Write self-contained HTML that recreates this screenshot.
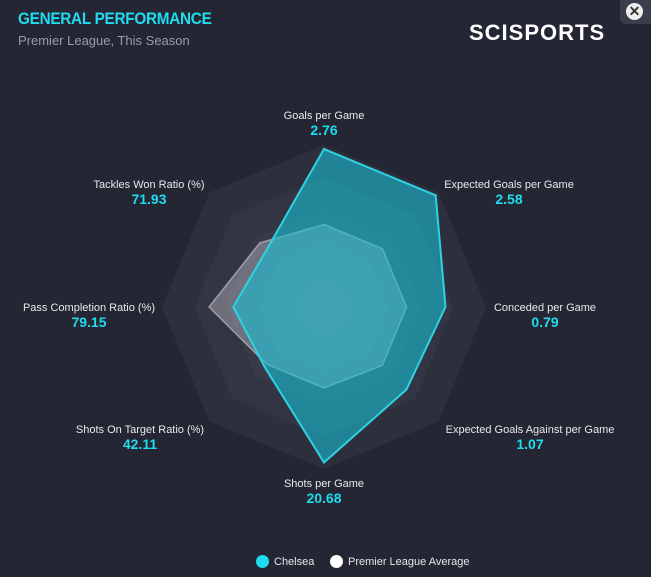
<!DOCTYPE html>
<html><head><meta charset="utf-8">
<style>
html,body{margin:0;padding:0;background:#242633;}
body{width:651px;height:577px;position:relative;overflow:hidden;font-family:"Liberation Sans",sans-serif;}
.title{position:absolute;left:18px;top:9px;color:#1fdcef;font-weight:bold;font-size:17px;letter-spacing:-0.3px;transform:scaleX(0.9);transform-origin:0 0;}
.sub{position:absolute;left:18px;top:33px;color:#9a9ca6;font-size:13px;}
.logo{position:absolute;left:469px;top:20px;color:#fff;font-weight:bold;font-size:22px;letter-spacing:1px;}
.close{position:absolute;left:620px;top:0;width:31px;height:24px;background:#3a3d4a;border-radius:0 0 0 6px;}
.close span{position:absolute;left:6px;top:3px;width:17px;height:17px;border-radius:50%;background:#eee;color:#333;font-size:14px;font-weight:bold;line-height:17px;text-align:center;}
.legend{position:absolute;top:555px;font-size:11px;color:#e6e6ea;}
.dot{display:inline-block;width:13px;height:13px;border-radius:50%;vertical-align:-3px;margin-right:5px;}
</style></head><body>
<div class="title">GENERAL PERFORMANCE</div>
<div class="sub">Premier League, This Season</div>
<div class="logo">SCISPORTS</div>
<div class="close"><span>✕</span></div>
<svg id="chart" width="651" height="577" style="position:absolute;left:0;top:0"></svg>
<div class="legend" style="left:256px"><span class="dot" style="background:#1fdcef"></span>Chelsea</div>
<div class="legend" style="left:330px"><span class="dot" style="background:#fff"></span>Premier League Average</div>
<script>
const categories=["Goals per Game","Expected Goals per Game","Conceded per Game","Expected Goals Against per Game","Shots per Game","Shots On Target Ratio (%)","Pass Completion Ratio (%)","Tackles Won Ratio (%)"];
const valueLabels=["2.76","2.58","0.79","1.07","20.68","42.11","79.15","71.93"];
const chelsea=[0.975,0.975,0.75,0.72,0.96,0.52,0.56,0.5];
const leagueAvg=[0.51,0.51,0.51,0.51,0.5,0.5,0.71,0.56];
const ringLevels=[1,0.8,0.6,0.4,0.2];
const cx=324,cy=307,R=162;
const NS="http://www.w3.org/2000/svg";
const svg=document.getElementById('chart');
function pt(i,v){const a=-Math.PI/2+i*Math.PI/4;return [cx+Math.cos(a)*R*v,cy+Math.sin(a)*R*v];}
function poly(vals){return vals.map((v,i)=>pt(i,v).join(',')).join(' ');}
const ringColors=["#2d2f3d","#333544","#383a4a","#3d3f50","#424456"];
ringLevels.forEach((l,k)=>{
  const p=document.createElementNS(NS,'polygon');
  p.setAttribute('points',poly(categories.map(()=>l)));
  p.setAttribute('fill',ringColors[k]);
  
  
  svg.appendChild(p);
});
const avg=document.createElementNS(NS,'polygon');
avg.setAttribute('points',poly(leagueAvg));
avg.setAttribute('fill','rgba(220,220,225,0.35)');
avg.setAttribute('stroke','rgba(230,230,235,0.5)');
avg.setAttribute('stroke-width','1.5');


svg.appendChild(avg);
const ch=document.createElementNS(NS,'polygon');
ch.setAttribute('points',poly(chelsea));
ch.setAttribute('fill','rgba(24,190,210,0.6)');
ch.setAttribute('stroke','#2ed3e3');
ch.setAttribute('stroke-width','2');


svg.appendChild(ch);
const labelPos=[[324,119,'middle'],[509,188,'middle'],[545,311,'middle'],[530,433,'middle'],[324,487,'middle'],[140,433,'middle'],[89,311,'middle'],[149,188,'middle']];
categories.forEach((c,i)=>{
  const [x,y,anc]=labelPos[i];
  const t=document.createElementNS(NS,'text');
  t.setAttribute('x',x);t.setAttribute('y',y);t.setAttribute('text-anchor',anc);
  t.setAttribute('fill','#e8e8ec');t.setAttribute('font-size','11');
  t.setAttribute('font-family','Liberation Sans, sans-serif');
  t.textContent=c;
  
  
  svg.appendChild(t);
  const v=document.createElementNS(NS,'text');
  v.setAttribute('x',x);v.setAttribute('y',y+16);v.setAttribute('text-anchor',anc);
  v.setAttribute('fill','#1fdcef');v.setAttribute('font-size','14');v.setAttribute('font-weight','bold');
  v.setAttribute('font-family','Liberation Sans, sans-serif');
  v.textContent=valueLabels[i];
  
  
  svg.appendChild(v);
});
</script>
</body></html>
